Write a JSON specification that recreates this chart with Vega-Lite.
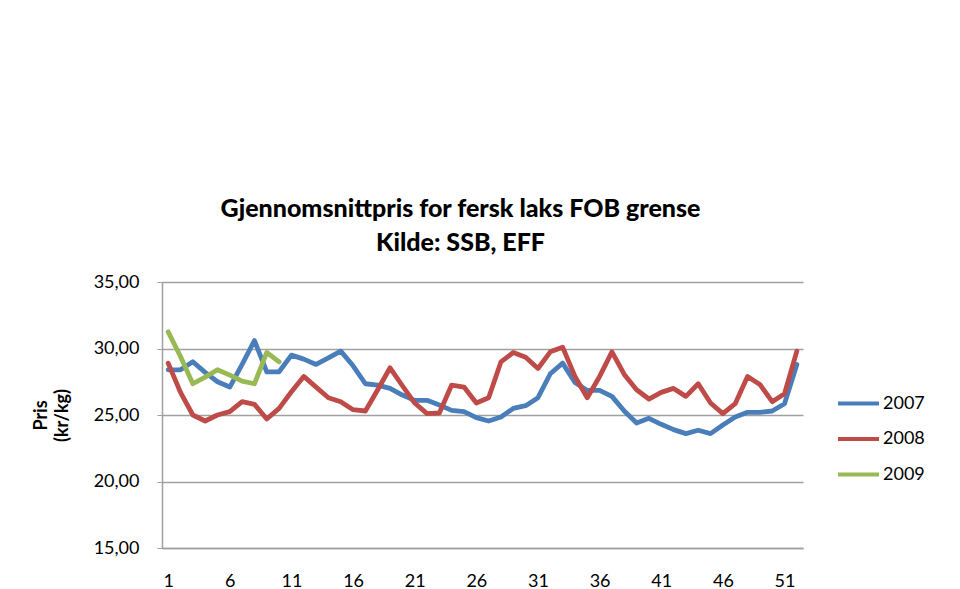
{
  "$schema": "https://vega.github.io/schema/vega-lite/v6.json",
  "width": 641,
  "height": 266,
  "autosize": "none",
  "padding": {"left": 162, "top": 282, "right": 157, "bottom": 41},
  "background": "white",
  "config": {"font": "Lato", "view": {"stroke": null}},
  "title": {
    "text": ["Gjennomsnittpris for fersk laks FOB grense", "Kilde: SSB, EFF"],
    "fontSize": 25,
    "fontWeight": 900,
    "font": "Lato",
    "color": "black",
    "anchor": "middle",
    "frame": "group",
    "dx": -22,
    "offset": 17,
    "lineHeight": 34
  },
  "data": {
    "values": [
      {"week": 1, "year": "2007", "price": 28.4},
      {"week": 2, "year": "2007", "price": 28.4},
      {"week": 3, "year": "2007", "price": 29.0},
      {"week": 4, "year": "2007", "price": 28.2},
      {"week": 5, "year": "2007", "price": 27.5},
      {"week": 6, "year": "2007", "price": 27.1},
      {"week": 7, "year": "2007", "price": 28.8},
      {"week": 8, "year": "2007", "price": 30.6},
      {"week": 9, "year": "2007", "price": 28.25},
      {"week": 10, "year": "2007", "price": 28.25},
      {"week": 11, "year": "2007", "price": 29.5},
      {"week": 12, "year": "2007", "price": 29.2},
      {"week": 13, "year": "2007", "price": 28.8},
      {"week": 14, "year": "2007", "price": 29.3},
      {"week": 15, "year": "2007", "price": 29.8},
      {"week": 16, "year": "2007", "price": 28.7},
      {"week": 17, "year": "2007", "price": 27.35},
      {"week": 18, "year": "2007", "price": 27.25},
      {"week": 19, "year": "2007", "price": 27.0},
      {"week": 20, "year": "2007", "price": 26.5},
      {"week": 21, "year": "2007", "price": 26.1},
      {"week": 22, "year": "2007", "price": 26.1},
      {"week": 23, "year": "2007", "price": 25.75},
      {"week": 24, "year": "2007", "price": 25.35},
      {"week": 25, "year": "2007", "price": 25.25},
      {"week": 26, "year": "2007", "price": 24.8},
      {"week": 27, "year": "2007", "price": 24.55},
      {"week": 28, "year": "2007", "price": 24.85},
      {"week": 29, "year": "2007", "price": 25.5},
      {"week": 30, "year": "2007", "price": 25.7},
      {"week": 31, "year": "2007", "price": 26.3},
      {"week": 32, "year": "2007", "price": 28.1},
      {"week": 33, "year": "2007", "price": 28.9},
      {"week": 34, "year": "2007", "price": 27.45},
      {"week": 35, "year": "2007", "price": 26.85},
      {"week": 36, "year": "2007", "price": 26.85},
      {"week": 37, "year": "2007", "price": 26.4},
      {"week": 38, "year": "2007", "price": 25.3},
      {"week": 39, "year": "2007", "price": 24.4},
      {"week": 40, "year": "2007", "price": 24.75},
      {"week": 41, "year": "2007", "price": 24.3},
      {"week": 42, "year": "2007", "price": 23.9},
      {"week": 43, "year": "2007", "price": 23.6},
      {"week": 44, "year": "2007", "price": 23.85},
      {"week": 45, "year": "2007", "price": 23.6},
      {"week": 46, "year": "2007", "price": 24.25},
      {"week": 47, "year": "2007", "price": 24.85},
      {"week": 48, "year": "2007", "price": 25.2},
      {"week": 49, "year": "2007", "price": 25.2},
      {"week": 50, "year": "2007", "price": 25.3},
      {"week": 51, "year": "2007", "price": 25.85},
      {"week": 52, "year": "2007", "price": 28.8},
      {"week": 1, "year": "2008", "price": 28.9},
      {"week": 2, "year": "2008", "price": 26.7},
      {"week": 3, "year": "2008", "price": 25.0},
      {"week": 4, "year": "2008", "price": 24.55},
      {"week": 5, "year": "2008", "price": 25.0},
      {"week": 6, "year": "2008", "price": 25.25},
      {"week": 7, "year": "2008", "price": 26.0},
      {"week": 8, "year": "2008", "price": 25.8},
      {"week": 9, "year": "2008", "price": 24.7},
      {"week": 10, "year": "2008", "price": 25.5},
      {"week": 11, "year": "2008", "price": 26.75},
      {"week": 12, "year": "2008", "price": 27.9},
      {"week": 13, "year": "2008", "price": 27.1},
      {"week": 14, "year": "2008", "price": 26.3},
      {"week": 15, "year": "2008", "price": 26.0},
      {"week": 16, "year": "2008", "price": 25.4},
      {"week": 17, "year": "2008", "price": 25.3},
      {"week": 18, "year": "2008", "price": 26.9},
      {"week": 19, "year": "2008", "price": 28.55},
      {"week": 20, "year": "2008", "price": 27.2},
      {"week": 21, "year": "2008", "price": 25.9},
      {"week": 22, "year": "2008", "price": 25.1},
      {"week": 23, "year": "2008", "price": 25.15},
      {"week": 24, "year": "2008", "price": 27.25},
      {"week": 25, "year": "2008", "price": 27.1},
      {"week": 26, "year": "2008", "price": 25.9},
      {"week": 27, "year": "2008", "price": 26.3},
      {"week": 28, "year": "2008", "price": 29.0},
      {"week": 29, "year": "2008", "price": 29.7},
      {"week": 30, "year": "2008", "price": 29.35},
      {"week": 31, "year": "2008", "price": 28.5},
      {"week": 32, "year": "2008", "price": 29.75},
      {"week": 33, "year": "2008", "price": 30.1},
      {"week": 34, "year": "2008", "price": 27.9},
      {"week": 35, "year": "2008", "price": 26.3},
      {"week": 36, "year": "2008", "price": 27.9},
      {"week": 37, "year": "2008", "price": 29.75},
      {"week": 38, "year": "2008", "price": 28.05},
      {"week": 39, "year": "2008", "price": 26.9},
      {"week": 40, "year": "2008", "price": 26.2},
      {"week": 41, "year": "2008", "price": 26.7},
      {"week": 42, "year": "2008", "price": 27.0},
      {"week": 43, "year": "2008", "price": 26.4},
      {"week": 44, "year": "2008", "price": 27.35},
      {"week": 45, "year": "2008", "price": 25.9},
      {"week": 46, "year": "2008", "price": 25.1},
      {"week": 47, "year": "2008", "price": 25.85},
      {"week": 48, "year": "2008", "price": 27.9},
      {"week": 49, "year": "2008", "price": 27.3},
      {"week": 50, "year": "2008", "price": 26.0},
      {"week": 51, "year": "2008", "price": 26.6},
      {"week": 52, "year": "2008", "price": 29.8},
      {"week": 1, "year": "2009", "price": 31.25},
      {"week": 2, "year": "2009", "price": 29.4},
      {"week": 3, "year": "2009", "price": 27.35},
      {"week": 4, "year": "2009", "price": 27.85},
      {"week": 5, "year": "2009", "price": 28.4},
      {"week": 6, "year": "2009", "price": 28.0},
      {"week": 7, "year": "2009", "price": 27.55},
      {"week": 8, "year": "2009", "price": 27.35},
      {"week": 9, "year": "2009", "price": 29.7},
      {"week": 10, "year": "2009", "price": 29.0}
    ]
  },
  "mark": {"type": "line", "strokeWidth": 4.8, "strokeJoin": "round", "strokeCap": "round"},
  "encoding": {
    "x": {
      "field": "week",
      "type": "quantitative",
      "scale": {"domain": [0.5, 52.5], "nice": false, "zero": false},
      "axis": {
        "values": [1, 6, 11, 16, 21, 26, 31, 36, 41, 46, 51],
        "grid": false,
        "ticks": false,
        "domainColor": "#a0a0a0",
        "domainWidth": 1.5,
        "labelFontSize": 18,
        "labelFont": "Lato",
        "labelColor": "black",
        "labelPadding": 24,
        "title": null
      }
    },
    "y": {
      "field": "price",
      "type": "quantitative",
      "scale": {"domain": [15, 35], "nice": false, "zero": false},
      "axis": {
        "values": [15, 20, 25, 30, 35],
        "labelExpr": "replace(format(datum.value, '.2f'), '.', ',')",
        "gridColor": "#a0a0a0",
        "gridWidth": 1.5,
        "domainColor": "#a0a0a0",
        "domainWidth": 1.5,
        "tickColor": "#a0a0a0",
        "tickSize": 5,
        "labelFontSize": 18,
        "labelFont": "Lato",
        "labelColor": "black",
        "labelPadding": 18,
        "title": ["Pris", "(kr/kg)"],
        "titleFont": "Lato",
        "titleFontSize": 18,
        "titleFontWeight": "bold",
        "titleColor": "black",
        "titleLineHeight": 21,
        "titlePadding": 22
      }
    },
    "color": {
      "field": "year",
      "type": "nominal",
      "scale": {"domain": ["2007", "2008", "2009"], "range": ["#4A7EBB", "#BE4B48", "#98B954"]},
      "legend": {
        "title": null,
        "orient": "none",
        "legendX": 674,
        "legendY": 99,
        "symbolType": "stroke",
        "symbolSize": 1681,
        "symbolStrokeWidth": 4,
        "labelFontSize": 18,
        "labelFont": "Lato",
        "labelColor": "black",
        "labelOffset": 2,
        "rowPadding": 3.5
      }
    }
  }
}
